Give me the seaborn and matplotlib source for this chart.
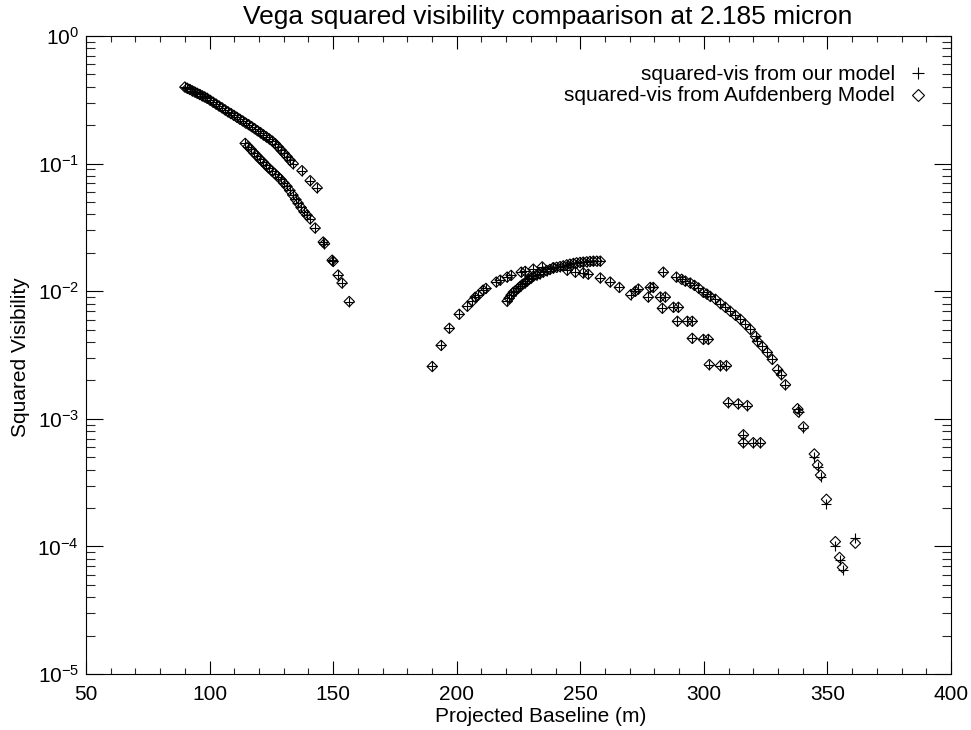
import numpy as np
import pandas as pd
import matplotlib
matplotlib.use("Agg")
import matplotlib.pyplot as plt
import seaborn as sns
from matplotlib.ticker import MultipleLocator, LogLocator, LogFormatterSciNotation, NullFormatter

# ---------------- data ----------------
# branch A: first lobe, upper band
base_a = [90.0, 91.0, 92.0, 93.0, 94.0, 95.0, 96.0, 97.0, 98.0, 99.0,
          100.2, 101.4, 102.6, 103.8, 105.0, 106.2, 107.4, 108.6, 109.8, 111.0,
          112.2, 113.4, 114.6, 115.8, 117.0, 118.2, 119.4, 120.6, 121.8, 123.0,
          124.2, 125.4, 126.6, 127.8, 129.0, 130.2, 131.4, 132.6, 133.8,
          137.4, 140.7, 143.5]
auf_a = [0.398, 0.389, 0.381, 0.372, 0.364, 0.356, 0.348, 0.340, 0.333, 0.325,
         0.314, 0.303, 0.293, 0.283, 0.274, 0.264, 0.255, 0.247, 0.239, 0.231,
         0.223, 0.216, 0.208, 0.202, 0.195, 0.188, 0.181, 0.175, 0.168, 0.162,
         0.156, 0.150, 0.143, 0.135, 0.127, 0.120, 0.113, 0.106, 0.100,
         0.088, 0.0735, 0.0647]
our_a = [0.398, 0.389, 0.381, 0.372, 0.364, 0.356, 0.348, 0.340, 0.333, 0.325,
         0.314, 0.303, 0.293, 0.283, 0.274, 0.264, 0.255, 0.247, 0.239, 0.231,
         0.223, 0.216, 0.208, 0.202, 0.195, 0.188, 0.181, 0.175, 0.168, 0.162,
         0.156, 0.150, 0.143, 0.135, 0.127, 0.120, 0.113, 0.106, 0.100,
         0.088, 0.0735, 0.0647]

# branch B: first lobe, lower band
base_b = [114.4, 115.6, 116.8, 118.0, 119.2, 120.4, 121.6, 122.8, 124.0, 125.2,
          126.4, 127.6, 128.8, 130.0, 131.2, 132.4, 133.6, 134.8, 135.8, 137.0,
          138.2, 139.4, 140.7, 142.7, 146.0, 146.5, 149.6, 150.0, 152.0, 153.6,
          156.5]
auf_b = [0.144, 0.136, 0.129, 0.121, 0.115, 0.108, 0.103, 0.097, 0.092, 0.0875,
         0.0834, 0.0792, 0.0752, 0.0705, 0.0665, 0.0617, 0.0569, 0.0524, 0.0490, 0.0453,
         0.0420, 0.0394, 0.0369, 0.0313, 0.0243, 0.0236, 0.0175, 0.0171, 0.0134, 0.0116,
         0.0083]
our_b = [0.144, 0.136, 0.129, 0.121, 0.115, 0.108, 0.103, 0.097, 0.092, 0.0875,
         0.0834, 0.0792, 0.0752, 0.0705, 0.0665, 0.0617, 0.0569, 0.0524, 0.0490, 0.0453,
         0.0420, 0.0394, 0.0369, 0.0313, 0.0243, 0.0236, 0.0175, 0.0171, 0.0134, 0.0116,
         0.0083]

# branch C: second lobe, outer arc
base_c = [190.1, 193.7, 197.0, 201.0, 204.3, 206.3, 207.5, 208.7, 210.7, 211.8,
          216.0, 217.6, 220.4, 222.0, 226.1, 227.7, 231.0, 234.6, 239.1, 244.7,
          248.0, 251.2, 253.2, 258.1, 262.1, 265.8, 270.4]
auf_c = [0.00257, 0.00376, 0.00512, 0.00659, 0.00762, 0.00834, 0.00897, 0.0093, 0.0102, 0.0105,
         0.0118, 0.0122, 0.0129, 0.0133, 0.0141, 0.0143, 0.0149, 0.0155, 0.0153, 0.0146,
         0.0141, 0.0139, 0.0136, 0.0127, 0.0118, 0.0107, 0.0094]
our_c = [0.00257, 0.00376, 0.00512, 0.00659, 0.00762, 0.00834, 0.00897, 0.0093, 0.0102, 0.0105,
         0.0118, 0.0122, 0.0129, 0.0133, 0.0141, 0.0143, 0.0149, 0.0155, 0.0153, 0.0146,
         0.0141, 0.0139, 0.0136, 0.0127, 0.0118, 0.0107, 0.0094]

# branch D: second lobe, inner arc
base_d = [220.4, 221.2, 222.0, 222.9, 223.8, 224.8, 225.7, 226.6, 227.6, 228.5,
          229.3, 230.2, 231.0, 232.3, 233.6, 235.0, 236.4, 237.7, 239.1, 240.4,
          241.8, 243.1, 244.5, 245.8, 247.2, 248.5, 249.9, 251.2, 252.6, 253.9,
          255.3, 256.7, 258.1]
auf_d = [0.00834, 0.0088, 0.0093, 0.0098, 0.0101, 0.0105, 0.0109, 0.0113, 0.0116, 0.0120,
         0.0124, 0.0127, 0.0131, 0.0134, 0.0137, 0.0141, 0.0145, 0.0148, 0.0152, 0.0154,
         0.0156, 0.0158, 0.0161, 0.0163, 0.0165, 0.0167, 0.0168, 0.0169, 0.0170, 0.0171,
         0.0172, 0.0172, 0.0172]
our_d = [0.00834, 0.0088, 0.0093, 0.0098, 0.0101, 0.0105, 0.0109, 0.0113, 0.0116, 0.0120,
         0.0124, 0.0127, 0.0131, 0.0134, 0.0137, 0.0141, 0.0145, 0.0148, 0.0152, 0.0154,
         0.0156, 0.0158, 0.0161, 0.0163, 0.0165, 0.0167, 0.0168, 0.0169, 0.0170, 0.0171,
         0.0172, 0.0172, 0.0172]

# branch E: second lobe, lower stepped series
base_e = [272.3, 273.5, 278.3, 279.5, 277.5, 282.4, 284.4, 283.2, 287.7, 289.7,
          289.3, 293.3, 295.3, 295.3, 299.8, 301.8, 302.2, 306.7, 309.1, 309.9,
          313.9, 317.6, 316.0, 316.0, 320.0, 322.9]
auf_e = [0.0100, 0.0104, 0.0107, 0.0107, 0.0090, 0.0090, 0.0090, 0.00735, 0.00748, 0.00748,
         0.00581, 0.00581, 0.00581, 0.00427, 0.00419, 0.00419, 0.00266, 0.00261, 0.00261, 0.00134,
         0.00131, 0.00127, 0.00075, 0.00065, 0.00065, 0.00065]
our_e = [0.0100, 0.0104, 0.0107, 0.0107, 0.0090, 0.0090, 0.0090, 0.00735, 0.00748, 0.00748,
         0.00581, 0.00581, 0.00581, 0.00427, 0.00419, 0.00419, 0.00266, 0.00261, 0.00261, 0.00134,
         0.00131, 0.00127, 0.00075, 0.00065, 0.00065, 0.00065]

# branch F: second lobe, outer arc down to the second null
base_f = [283.6, 288.9, 291.0, 292.5, 294.5, 296.2, 297.8, 299.8, 301.2, 302.6,
          304.7, 306.7, 308.7, 310.7, 312.8, 314.8, 316.8, 318.8, 320.9, 321.7,
          323.7, 325.7, 327.7, 329.8, 331.4, 333.0, 337.9, 338.3, 340.3, 344.7,
          346.0, 347.2, 349.6, 353.2, 354.9, 356.1, 361.3]
auf_f = [0.0141, 0.0129, 0.0124, 0.0120, 0.0116, 0.0111, 0.0106, 0.0098, 0.0095, 0.0091,
         0.00865, 0.0080, 0.00748, 0.00696, 0.00647, 0.00602, 0.0055, 0.00502, 0.00442, 0.00404,
         0.00369, 0.00331, 0.00292, 0.00243, 0.00222, 0.00185, 0.00120, 0.00113, 0.000865, 0.00053,
         0.000435, 0.000362, 0.000234, 0.000109, 0.0000819, 0.0000684, 0.000106]
our_f = [0.0141, 0.0129, 0.0124, 0.0120, 0.0116, 0.0111, 0.0106, 0.0098, 0.0095, 0.0091,
         0.00865, 0.0080, 0.00748, 0.00696, 0.00647, 0.00602, 0.0055, 0.00502, 0.00442, 0.00404,
         0.00369, 0.00331, 0.00292, 0.00243, 0.00222, 0.00185, 0.00120, 0.00113, 0.00084, 0.000502,
         0.00042, 0.00035, 0.000215, 0.000100, 0.000078, 0.000065, 0.000116]

title_text = "Vega squared visibility compaarison at 2.185 micron"
x_label = "Projected Baseline (m)"
y_label = "Squared Visibility"
legend_labels = ["squared-vis from our model", "squared-vis from Aufdenberg Model"]
x_ticks = [50, 100, 150, 200, 250, 300, 350, 400]

# ---------------- assemble ----------------
baseline = base_a + base_b + base_c + base_d + base_e + base_f
vis2_aufdenberg = auf_a + auf_b + auf_c + auf_d + auf_e + auf_f
vis2_ours = our_a + our_b + our_c + our_d + our_e + our_f
assert len(baseline) == len(vis2_aufdenberg) == len(vis2_ours)
df = pd.DataFrame({"baseline": baseline, "auf": vis2_aufdenberg, "ours": vis2_ours})

# ---------------- style ----------------
sns.set_theme(style="white")
plt.rcParams["font.family"] = ["Liberation Sans", "DejaVu Sans"]
plt.rcParams["mathtext.default"] = "regular"

fig = plt.figure(figsize=(9.71, 7.30), dpi=100)
ax = fig.add_axes([86 / 971, 1 - 674 / 730, 865 / 971, 638 / 730])

ax.set_yscale("log")
ax.set_xlim(50, 400)
ax.set_ylim(1e-5, 1.0)

sns.scatterplot(data=df, x="baseline", y="auf", marker="D", s=28,
                facecolor="none", edgecolor="black", linewidth=0.8,
                color="black", ax=ax, legend=False, zorder=3)
sns.scatterplot(data=df, x="baseline", y="ours", marker="+", s=60,
                color="black", linewidth=0.8, ax=ax, legend=False, zorder=4)

# axes cosmetics
for sp in ax.spines.values():
    sp.set_color("black")
    sp.set_linewidth(0.8)
ax.xaxis.set_major_locator(MultipleLocator(50))
ax.xaxis.set_minor_locator(MultipleLocator(10))
ax.set_xticks(x_ticks)
ax.set_xticklabels([str(t) for t in x_ticks])
ax.yaxis.set_major_locator(LogLocator(base=10, numticks=10))
ax.yaxis.set_minor_locator(LogLocator(base=10, subs=np.arange(2, 10), numticks=20))
ax.yaxis.set_major_formatter(LogFormatterSciNotation())
ax.yaxis.set_minor_formatter(NullFormatter())

ax.tick_params(axis="x", which="major", direction="in", length=9.4, width=0.8,
               top=True, bottom=True, labelsize=15, pad=8, colors="black")
ax.tick_params(axis="x", which="minor", direction="in", length=4.6, width=0.8,
               top=True, bottom=True)
ax.tick_params(axis="y", which="major", direction="in", length=12.4, width=0.8,
               left=True, right=True, labelsize=15, pad=5, colors="black")
ax.tick_params(axis="y", which="minor", direction="in", length=6.2, width=0.8,
               left=True, right=True)

ax.set_xlabel(x_label, fontsize=15, color="black")
ax.set_ylabel(y_label, fontsize=15, color="black")
ax.xaxis.set_label_coords((541 - 86) / 865, (674 - 717) / 638)
ax.xaxis.label.set_va("center")
ax.yaxis.set_label_coords((21 - 86) / 865, (674 - 357) / 638)
ax.yaxis.label.set_va("center")

fig.text(548 / 971, 1 - 17 / 730, title_text, ha="center", va="center",
         fontsize=19, color="black")

# legend (IDL style: text right aligned, symbol to the right)
ax.text(0.935, 0.940, legend_labels[0], transform=ax.transAxes, ha="right",
        va="center", fontsize=15, color="black")
ax.text(0.935, 0.907, legend_labels[1], transform=ax.transAxes, ha="right",
        va="center", fontsize=15, color="black")
ax.plot([0.962], [0.942], marker="+", ms=9, mew=0.8, color="black",
        transform=ax.transAxes, clip_on=False, linestyle="none")
ax.plot([0.962], [0.908], marker="D", ms=6, mew=0.8, mfc="none", mec="black",
        transform=ax.transAxes, clip_on=False, linestyle="none")

fig.savefig("out.png", dpi=100)
